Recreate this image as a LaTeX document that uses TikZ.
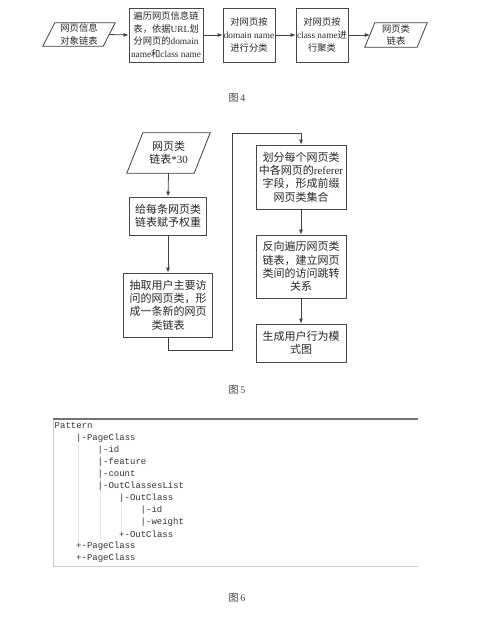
\documentclass[tikz,border=0pt]{standalone}
\usepackage{fontspec}
\setmainfont{Liberation Serif}
\newfontfamily\cjk{Noto Sans CJK SC}
\newfontfamily\mono{Liberation Mono}
\usetikzlibrary{arrows.meta}
\tikzset{
  procbox/.style={draw=black!72, line width=0.8pt, inner sep=0pt, align=center, text=black!85},
  shapetext/.style={inner sep=0pt, align=center, text=black!85},
  fsmall/.style={font=\fontsize{9.3}{12.6}\selectfont},
  fbig/.style={font=\fontsize{11}{13.4}\selectfont},
  arr/.style={draw=black!75, line width=0.8pt, -{Latex[length=5pt,width=4pt]}},
  link/.style={draw=black!75, line width=0.8pt},
  codeline/.style={anchor=west, inner sep=0pt, font=\mono\fontsize{9}{11}\selectfont, text=black!80},
  guide/.style={draw=black!10, line width=0.5pt},
  caption/.style={font=\fontsize{10}{12}\selectfont, text=black!75}
}
\begin{document}
\begin{tikzpicture}[x=1pt,y=-1pt]
\useasboundingbox (0,0) rectangle (500,627);
% ---------- Figure 4 ----------
\node[shapetext, fsmall, minimum width=72pt, minimum height=23pt] (p1) at (79,34.5) {{\cjk 网页信息}\\{\cjk 对象链表}};
\draw[link] ([xshift=12pt]p1.north west) -- (p1.north east) -- ([xshift=-12pt]p1.south east) -- (p1.south west) -- cycle;
\node[procbox, fsmall, minimum width=74pt, minimum height=54pt] (b2) at (166,35) {{\cjk 遍历网页信息链}\\{\cjk 表，依据}URL{\cjk 划}\\{\cjk 分网页的}domain\\name{\cjk 和}class name};
\node[procbox, fsmall, minimum width=52pt, minimum height=54pt] (b3) at (249,35) {{\cjk 对网页按}\\domain name\\{\cjk 进行分类}};
\node[procbox, fsmall, minimum width=52pt, minimum height=54pt] (b4) at (322,35) {{\cjk 对网页按}\\class name{\cjk 进}\\{\cjk 行聚类}};
\node[shapetext, fsmall, minimum width=62pt, minimum height=24pt] (p2) at (396,35) {{\cjk 网页类}\\{\cjk 链表}};
\draw[link] ([xshift=10pt]p2.north west) -- (p2.north east) -- ([xshift=-10pt]p2.south east) -- (p2.south west) -- cycle;
\draw[arr] ([xshift=-6pt]p1.east) -- (b2.west);
\draw[arr] (b2.east) -- (b3.west);
\draw[arr] (b3.east) -- (b4.west);
\draw[arr] (b4.east) -- ([xshift=5pt]p2.west);
\node[caption] (cap4) at (237,98) {{\cjk 图}\,4};
% ---------- Figure 5 ----------
\node[shapetext, fbig, minimum width=83pt, minimum height=40pt] (p3) at (168.5,153) {{\cjk 网页类}\\{\cjk 链表}*30};
\draw[link] ([xshift=16pt]p3.north west) -- (p3.north east) -- ([xshift=-16pt]p3.south east) -- (p3.south west) -- cycle;
\node[procbox, fbig, minimum width=77pt, minimum height=38pt] (b5) at (168,216) {{\cjk 给每条网页类}\\{\cjk 链表赋予权重}};
\node[procbox, fbig, minimum width=89pt, minimum height=64pt] (b6) at (168,305) {{\cjk 抽取用户主要访}\\{\cjk 问的网页类，形}\\{\cjk 成一条新的网页}\\{\cjk 类链表}};
\node[procbox, fbig, minimum width=90pt, minimum height=64pt] (b7) at (301,177) {{\cjk 划分每个网页类}\\{\cjk 中各网页的}referer\\{\cjk 字段，形成前缀}\\{\cjk 网页类集合}};
\node[procbox, fbig, minimum width=90pt, minimum height=63pt] (b8) at (301,266.5) {{\cjk 反向遍历网页类}\\{\cjk 链表，建立网页}\\{\cjk 类间的访问跳转}\\{\cjk 关系}};
\node[procbox, fbig, minimum width=90pt, minimum height=38pt] (b9) at (301,343) {{\cjk 生成用户行为模}\\{\cjk 式图}};
\coordinate (lowturn) at (232,350);
\coordinate (highturn) at (232,133);
\draw[arr] (p3.south) -- (b5.north);
\draw[arr] (b5.south) -- (b6.north);
\draw[arr] (b6.south) |- (lowturn) -- (highturn) -| (b7.north);
\draw[arr] (b7.south) -- (b8.north);
\draw[arr] (b8.south) -- (b9.north);
\node[caption] (cap5) at (237,390) {{\cjk 图}\,5};
% ---------- Figure 6 ----------
\draw[draw=black!20, line width=0.6pt] (53,419) -- (53,566) -- (418,566);
\draw[draw=black!55, line width=1.4pt] (53,419) -- (418,419);
\draw[guide] (78.7,444) -- (78.7,542);
\draw[guide] (100.2,456) -- (100.2,541);
\draw[guide] (121.7,505) -- (121.7,530);
\node[codeline] (l1) at (54.5,426) {Pattern};
\node[codeline] (l2) at (76,438.5) {|-PageClass};
\node[codeline] (l3) at (97.5,450.5) {|-id};
\node[codeline] (l4) at (97.5,462.5) {|-feature};
\node[codeline] (l5) at (97.5,474.5) {|-count};
\node[codeline] (l6) at (97.5,486.5) {|-OutClassesList};
\node[codeline] (l7) at (119,498.5) {|-OutClass};
\node[codeline] (l8) at (140.5,510.5) {|-id};
\node[codeline] (l9) at (140.5,522.5) {|-weight};
\node[codeline] (l10) at (119,534.5) {+-OutClass};
\node[codeline] (l11) at (76,546.5) {+-PageClass};
\node[codeline] (l12) at (76,558.5) {+-PageClass};
\node[caption] (cap6) at (237,598) {{\cjk 图}\,6};
\end{tikzpicture}
\end{document}
